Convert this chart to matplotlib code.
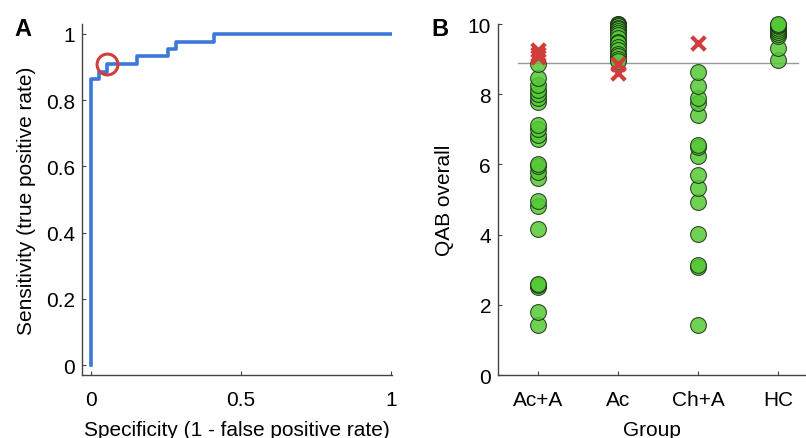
import matplotlib
matplotlib.use('Agg')
import matplotlib.pyplot as plt

plt.rcParams['font.family'] = ['Liberation Sans', 'DejaVu Sans']

# ROC curve (panel A)
roc_fpr = [0.0, 0.0, 0.028, 0.053, 0.152, 0.256, 0.284, 0.41, 1.0]
roc_tpr = [0.0, 0.864, 0.886, 0.909, 0.932, 0.955, 0.977, 1.0, 1.0]
cut_point = (0.053, 0.909)

# QAB overall scores by group (panel B)
groups = ['Ac+A', 'Ac', 'Ch+A', 'HC']
acA_ok = [1.42, 1.79, 2.52, 2.56, 2.6, 4.15, 4.82, 4.95, 5.6, 5.78, 5.95, 6.02,
          6.72, 6.85, 7.0, 7.12, 7.78, 7.88, 8.0, 8.12, 8.25, 8.45, 8.85]
acA_bad = [9.05, 9.15, 9.27]
ac_ok = [10.0, 10.0, 9.97, 9.93, 9.9, 9.85, 9.8, 9.75, 9.7, 9.6, 9.5, 9.45,
         9.35, 9.25, 9.15, 9.1, 9.0, 8.95]
ac_bad = [8.86, 8.6]
chA_ok = [1.42, 3.07, 3.14, 4.02, 4.94, 5.32, 5.7, 6.23, 6.5, 6.56, 7.42,
          7.75, 7.88, 8.24, 8.64]
chA_bad = [9.46]
hc_ok = [8.97, 9.32, 9.67, 9.72, 9.78, 9.83, 9.88, 9.93, 9.97, 10.0]
hc_bad = []
cutoff = 8.9

ok_data = [acA_ok, ac_ok, chA_ok, hc_ok]
bad_data = [acA_bad, ac_bad, chA_bad, hc_bad]

blue = '#3c78d8'
red = '#d13d3d'
green = '#55c936'
fs = 15

fig = plt.figure(figsize=(8.06, 4.39), dpi=100)
axA = fig.add_axes([0.1017, 0.1435, 0.3846, 0.7995])
axB = fig.add_axes([0.6179, 0.1435, 0.3821, 0.7995])

# panel A
axA.step(roc_fpr, roc_tpr, where='post', color=blue, lw=2.6, zorder=2)
axA.plot(cut_point[0], cut_point[1], 'o', mfc='none', mec=red, ms=15, mew=2.2, zorder=3)
axA.set_xlim(-0.03, 1.003)
axA.set_ylim(-0.03, 1.03)
axA.set_xticks([0, 0.5, 1])
axA.set_xticklabels(['0', '0.5', '1'])
axA.set_yticks([0, 0.2, 0.4, 0.6, 0.8, 1])
axA.set_yticklabels(['0', '0.2', '0.4', '0.6', '0.8', '1'])
axA.set_xlabel('Specificity (1 - false positive rate)', fontsize=fs, labelpad=8)
axA.set_ylabel('Sensitivity (true positive rate)', fontsize=fs, labelpad=7)

# panel B
for i, (ok, bad) in enumerate(zip(ok_data, bad_data)):
    pos = i + 1
    axB.scatter([pos] * len(ok), ok, s=130, facecolor=green, edgecolor='#1c2e18',
                linewidth=0.8, alpha=0.85, zorder=3, clip_on=False)
    if bad:
        axB.scatter([pos] * len(bad), bad, s=95, marker='x', color=red,
                    linewidth=3, zorder=4, clip_on=False)
axB.plot([0.75, 4.25], [cutoff, cutoff], color='#999999', lw=1, zorder=2)
axB.set_xlim(0.5, 4.35)
axB.set_ylim(0, 10)
axB.set_xticks(range(1, len(groups) + 1))
axB.set_xticklabels(groups)
axB.set_yticks([0, 2, 4, 6, 8, 10])
axB.set_xlabel('Group', fontsize=fs, labelpad=8)
axB.set_ylabel('QAB overall', fontsize=fs, labelpad=10)

for ax in (axA, axB):
    for s in ('top', 'right'):
        ax.spines[s].set_visible(False)
    for s in ('left', 'bottom'):
        ax.spines[s].set_color('#444444')
        ax.spines[s].set_linewidth(1.0)
    ax.tick_params(direction='in', length=3, width=0.8, color='#444444', labelsize=fs)
    ax.tick_params(axis='x', pad=11)
    ax.tick_params(axis='y', pad=5)

fig.text(0.018, 0.918, 'A', fontsize=17, fontweight='bold')
fig.text(0.535, 0.918, 'B', fontsize=17, fontweight='bold')

fig.savefig('out.png', dpi=100)
